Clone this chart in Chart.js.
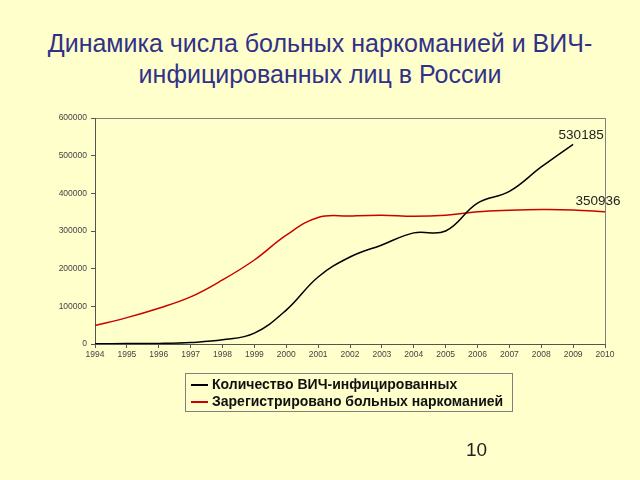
<!DOCTYPE html>
<html>
<head>
<meta charset="utf-8">
<script src="https://cdn.jsdelivr.net/npm/chart.js@4/dist/chart.umd.min.js"></script>
<style>
  html, body { margin: 0; padding: 0; background: #FFFFCC; }
  #wrap { position: relative; width: 640px; height: 480px; overflow: hidden; font-family: "Liberation Sans", Arial, sans-serif; }
  #title { position: absolute; left: 0; top: 28px; width: 640px; text-align: center; color: #313188; font-size: 25px; line-height: 31px; }
  #mycanvas { position: absolute; left: 0; top: 0; }
  #legend { position: absolute; left: 185px; top: 373px; width: 328px; height: 39px; border: 1px solid #808080; box-sizing: border-box; }
  .item { position: absolute; left: 5px; font-size: 14px; font-weight: bold; color: #111; white-space: nowrap; }
  .item i { display: inline-block; width: 17px; height: 2px; vertical-align: middle; margin-right: 4px; }
  #page { position: absolute; left: 466px; top: 439px; font-size: 19px; color: #222; }
</style>
</head>
<body>
<div id="wrap">
  <div id="title">Динамика числа больных наркоманией и ВИЧ-<br>инфицированных лиц в России</div>
  <canvas id="mycanvas" width="640" height="480"></canvas>
  <div id="legend">
    <div class="item" style="top:2px"><i style="background:#000"></i>Количество ВИЧ-инфицированных</div>
    <div class="item" style="top:19px"><i style="background:#CC0000"></i>Зарегистрировано больных наркоманией</div>
  </div>
  <div id="page">10</div>
</div>
<script>
var years = ["1994","1995","1996","1997","1998","1999","2000","2001","2002","2003","2004","2005","2006","2007","2008","2009","2010"];
var hiv = [500, 1000, 1500, 4000, 11000, 29000, 90000, 178000, 231000, 263000, 295000, 300000, 374000, 405000, 470000, 530185, null];
var addicts = [49000, 70000, 95000, 125000, 170000, 223000, 289000, 336000, 340000, 342000, 339000, 342000, 351000, 355000, 357000, 356000, 350936];
var yTicks = [0, 100000, 200000, 300000, 400000, 500000, 600000];

var endLabels = {
  id: 'endLabels',
  beforeDraw: function(chart) {
    var a = chart.chartArea, c = chart.ctx;
    c.save();
    c.strokeStyle = '#808080';
    c.lineWidth = 1;
    c.strokeRect(a.left + 0.5, a.top + 0.5, a.right - a.left, a.bottom - a.top);
    c.restore();
  },
  afterDatasetsDraw: function(chart) {
    var c = chart.ctx;
    c.save();
    c.font = '13.5px "Liberation Sans", Arial, sans-serif';
    c.fillStyle = '#222';
    c.textAlign = 'center';
    c.textBaseline = 'bottom';
    var m0 = chart.getDatasetMeta(0).data[15];
    c.fillText(String(hiv[15]), m0.x + 8, m0.y - 2);
    var m1 = chart.getDatasetMeta(1).data[16];
    c.fillText(String(addicts[16]), m1.x - 7, m1.y - 4);
    c.restore();
  }
};

var ctx = document.getElementById('mycanvas');
var chart = new Chart(ctx, {
  type: 'line',
  data: {
    labels: years,
    datasets: [
      { label: 'Количество ВИЧ-инфицированных', data: hiv, borderColor: '#000000', borderWidth: 1.5, pointRadius: 0, tension: 0.4, spanGaps: false },
      { label: 'Зарегистрировано больных наркоманией', data: addicts, borderColor: '#CC0000', borderWidth: 1.5, pointRadius: 0, tension: 0.4 }
    ]
  },
  options: {
    responsive: false,
    animation: false,
    layout: { padding: { left: 0, top: 118, right: 35, bottom: 116 } },
    plugins: { legend: { display: false }, title: { display: false }, tooltip: { enabled: false } },
    scales: {
      x: {
        offset: false,
        grid: { display: true, drawOnChartArea: false, drawTicks: true, tickLength: 4, color: '#555' },
        border: { display: true, color: '#555' },
        ticks: { color: '#444', font: { size: 8.5, family: '"Liberation Sans", Arial' }, padding: 2, maxRotation: 0, autoSkip: false },
        afterFit: function(s) { s.height = 20; }
      },
      y: {
        min: 0, max: 600000,
        afterBuildTicks: function(s) { s.ticks = yTicks.map(function(v) { return { value: v }; }); },
        grid: { display: true, drawOnChartArea: false, drawTicks: true, tickLength: 4, color: '#555' },
        border: { display: true, color: '#555' },
        ticks: { color: '#444', font: { size: 8.5, family: '"Liberation Sans", Arial' }, padding: 4, callback: function(v) { return String(v); } },
        afterFit: function(s) { s.width = 95; }
      }
    }
  },
  plugins: [endLabels]
});
</script>
</body>
</html>
